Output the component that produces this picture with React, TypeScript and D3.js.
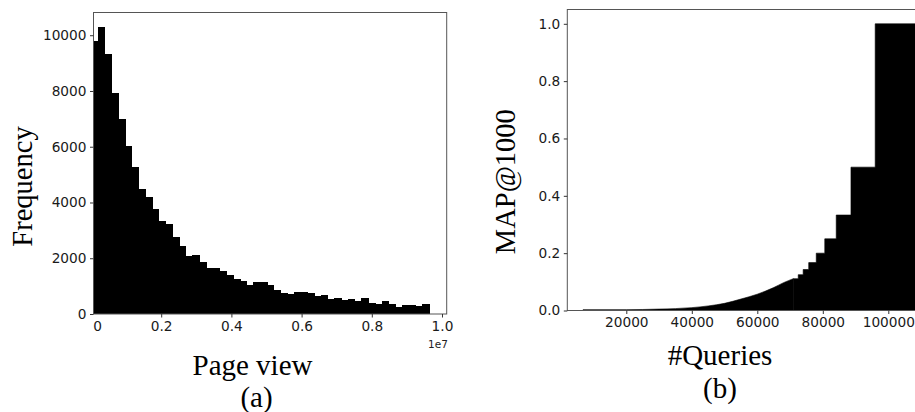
import React, { useEffect, useRef } from "react";
import * as d3 from "d3";

// (a) histogram of page views, 50 equal bins starting at 0
const pageViewBinWidth = 0.01926e7;
const pageViewCounts = [
  9800, 10300, 9340, 7910, 6990, 6010, 5260, 4500, 4180, 3750,
  3320, 3220, 2750, 2440, 2090, 2120, 1880, 1640, 1660, 1550,
  1390, 1270, 1180, 1050, 1130, 1160, 1040, 860, 740, 720,
  790, 790, 740, 660, 680, 540, 590, 490, 530, 470,
  560, 410, 370, 480, 360, 240, 320, 320, 290, 350,
];
const freqTicks = [0, 2000, 4000, 6000, 8000, 10000];
const pageViewTicks = [0, 0.2e7, 0.4e7, 0.6e7, 0.8e7, 1.0e7];
const pageViewTickLabels = ["0", "0.2", "0.4", "0.6", "0.8", "1.0"];

// (b) MAP@1000 per query, sorted: smooth rising part, then 1/rank steps
const mapCurveQueries = [6800, 20000, 30000, 40000, 45000, 50000, 55000, 60000, 65000, 68000, 71000];
const mapCurveValues = [0.003, 0.003, 0.005, 0.01, 0.016, 0.025, 0.04, 0.057, 0.08, 0.097, 0.111];
const mapStepQueries = [71000, 72500, 74000, 75700, 78000, 80600, 84100, 88600, 96000, 112000];
const mapStepValues = [0.111, 0.125, 0.143, 0.167, 0.2, 0.25, 0.333, 0.5, 1.0, 1.0];
const queryTicks = [20000, 40000, 60000, 80000, 100000];
const mapTicks = [0, 0.2, 0.4, 0.6, 0.8, 1.0];

const tickFont = "'DejaVu Sans', sans-serif";
const labelFont = "'Liberation Serif', 'Times New Roman', serif";

export default function App() {
  const ref = useRef<SVGSVGElement>(null);

  useEffect(() => {
    const svg = d3.select(ref.current);
    svg.selectAll("*").remove();

    // ---------- panel (a) ----------
    const a = { left: 93.5, right: 446.7, top: 12.5, bottom: 314 };
    const xa = d3.scaleLinear().domain([0, 1e7]).range([91, 442]);
    const ya = d3.scaleLinear().domain([0, 10815]).range([a.bottom, a.top]);

    svg.append("clipPath").attr("id", "clipA")
      .append("rect")
      .attr("x", a.left).attr("y", a.top)
      .attr("width", a.right - a.left).attr("height", a.bottom - a.top);

    svg.append("g")
      .attr("clip-path", "url(#clipA)")
      .selectAll("rect")
      .data(pageViewCounts)
      .enter()
      .append("rect")
      .attr("x", (d, i) => xa(i * pageViewBinWidth))
      .attr("width", xa(pageViewBinWidth) - xa(0) + 0.8)
      .attr("y", d => ya(d))
      .attr("height", d => a.bottom - ya(d))
      .attr("fill", "#000")
      .attr("shape-rendering", "crispEdges");

    svg.append("rect")
      .attr("x", a.left).attr("y", a.top)
      .attr("width", a.right - a.left).attr("height", a.bottom - a.top)
      .attr("fill", "none").attr("stroke", "#555").attr("stroke-width", 1);

    svg.append("g")
      .attr("transform", `translate(${a.left},0)`)
      .call(d3.axisLeft(ya).tickValues(freqTicks).tickFormat(d3.format("d"))
        .tickSize(3.5).tickPadding(3.5));
    const xAxisA = svg.append("g")
      .attr("transform", `translate(0,${a.bottom})`)
      .call(d3.axisBottom(xa).tickValues(pageViewTicks)
        .tickFormat((d, i) => pageViewTickLabels[i]).tickSize(3.5).tickPadding(3.5));
    // the "0" tick sits left of the frame, only its label shows
    xAxisA.selectAll(".tick").filter((d: any) => d === 0).select("line").remove();
    xAxisA.selectAll(".tick").filter((d: any) => d === 0).select("text").attr("dx", 6);

    svg.append("text")
      .attr("x", 428).attr("y", 348)
      .attr("font-family", tickFont).attr("font-size", 10.5).attr("fill", "#222")
      .text("1e7");

    svg.append("text")
      .attr("transform", "translate(31.5,186.5) rotate(-90)")
      .attr("text-anchor", "middle")
      .attr("font-family", labelFont).attr("font-size", 28.5)
      .text("Frequency");
    svg.append("text")
      .attr("x", 252.5).attr("y", 375)
      .attr("text-anchor", "middle")
      .attr("font-family", labelFont).attr("font-size", 29)
      .text("Page view");
    svg.append("text")
      .attr("x", 256.5).attr("y", 406.5)
      .attr("text-anchor", "middle")
      .attr("font-family", labelFont).attr("font-size", 29)
      .text("(a)");

    // ---------- panel (b) ----------
    const b = { left: 567.3, right: 918, top: 9.5, bottom: 310.5 };
    const xb = d3.scaleLinear().domain([0, 100000]).range([560.8, 888.3]);
    const yb = d3.scaleLinear().domain([0, 1]).range([b.bottom, 23.8]);

    svg.append("clipPath").attr("id", "clipB")
      .append("rect")
      .attr("x", b.left).attr("y", b.top)
      .attr("width", b.right - b.left).attr("height", b.bottom - b.top);

    const gb = svg.append("g").attr("clip-path", "url(#clipB)");
    const curve = mapCurveQueries.map((q, i) => [q, mapCurveValues[i]] as [number, number]);
    const steps = mapStepQueries.map((q, i) => [q, mapStepValues[i]] as [number, number]);

    const smoothArea = d3.area<[number, number]>()
      .x(d => xb(d[0])).y0(yb(0)).y1(d => yb(d[1]))
      .curve(d3.curveMonotoneX);
    const stepArea = d3.area<[number, number]>()
      .x(d => xb(d[0])).y0(yb(0)).y1(d => yb(d[1]))
      .curve(d3.curveStepAfter);

    gb.append("path").attr("d", stepArea(steps))
      .attr("fill", "#000").attr("stroke", "#000").attr("stroke-width", 0.6);
    gb.append("path").attr("d", smoothArea(curve))
      .attr("fill", "#000").attr("stroke", "#000").attr("stroke-width", 0.6);

    svg.append("rect")
      .attr("x", b.left).attr("y", b.top)
      .attr("width", b.right - b.left).attr("height", b.bottom - b.top)
      .attr("fill", "none").attr("stroke", "#555").attr("stroke-width", 1);

    svg.append("g")
      .attr("transform", `translate(${b.left},0)`)
      .call(d3.axisLeft(yb).tickValues(mapTicks).tickFormat(d3.format(".1f"))
        .tickSize(3.5).tickPadding(3.5));
    svg.append("g")
      .attr("transform", `translate(0,${b.bottom})`)
      .call(d3.axisBottom(xb).tickValues(queryTicks).tickFormat(d3.format("d"))
        .tickSize(3.5).tickPadding(3.5));

    svg.append("text")
      .attr("transform", "translate(515,181.7) rotate(-90)")
      .attr("text-anchor", "middle")
      .attr("font-family", labelFont).attr("font-size", 28.5)
      .call(t => {
        t.append("tspan").text("MAP");
        t.append("tspan").attr("font-style", "italic").text("@");
        t.append("tspan").text("1000");
      });
    svg.append("text")
      .attr("x", 720).attr("y", 365)
      .attr("text-anchor", "middle")
      .attr("font-family", labelFont).attr("font-size", 29)
      .text("#Queries");
    svg.append("text")
      .attr("x", 720).attr("y", 397.5)
      .attr("text-anchor", "middle")
      .attr("font-family", labelFont).attr("font-size", 29)
      .text("(b)");

    // shared axis styling
    svg.selectAll(".domain").remove();
    svg.selectAll(".tick line").attr("stroke", "#333");
    svg.selectAll(".tick text")
      .attr("font-family", tickFont)
      .attr("font-size", 13.7)
      .attr("fill", "#1a1a1a");
  }, []);

  return (
    <svg
      ref={ref}
      width={915}
      height={412}
      style={{ position: "absolute", left: 0, top: 0, background: "#fff" }}
    />
  );
}
